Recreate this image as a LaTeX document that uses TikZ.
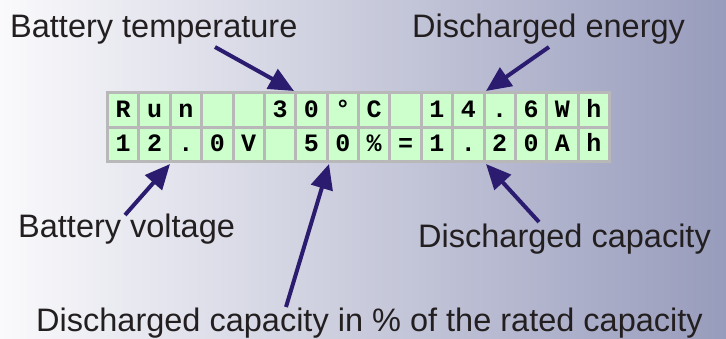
\documentclass[tikz,border=0pt]{standalone}
\usepackage{fontspec}
\setmainfont{Liberation Sans}
\newfontfamily\lcdfont{Liberation Mono}
\usetikzlibrary{arrows.meta}
\definecolor{bgL}{RGB}{250,250,252}
\definecolor{bgR}{RGB}{152,156,188}
\definecolor{framec}{RGB}{184,184,184}
\definecolor{cellc}{RGB}{204,255,204}
\definecolor{arrowc}{RGB}{43,28,112}
\definecolor{txtc}{RGB}{35,31,32}
\tikzset{
  lbl/.style={anchor=base west, inner sep=0pt, text=txtc,
    font=\fontsize{32.5}{39}\selectfont},
  cell/.style={fill=cellc, minimum width=28.375pt, minimum height=31.5pt,
    inner sep=0pt, text height=15pt, text depth=0pt,
    font=\lcdfont\bfseries\fontsize{25}{30}\selectfont},
  pointer/.style={draw=arrowc, line width=4pt,
    -{Triangle[length=25pt,width=22pt]}}
}
\begin{document}
\begin{tikzpicture}[x=1pt,y=-1pt]
\useasboundingbox (0,0) rectangle (726,338);
\shade[left color=bgL, right color=bgR] (0,0) rectangle (726,338);
% LCD panel
\node[fill=framec, minimum width=505pt, minimum height=72pt, inner sep=0pt,
  anchor=north west] (lcd) at (106,91) {};
\foreach \c [count=\i] in {R,u,n,{},{},3,0,°,C,{},1,4,.,6,W,h}
  \node[cell] (t\i) at ({123.1875+(\i-1)*31.375},109.75) {\c};
\foreach \c [count=\i] in {1,2,.,0,V,{},5,0,\%,=,1,.,2,0,A,h}
  \node[cell] (b\i) at ({123.1875+(\i-1)*31.375},144.25) {\c};
% labels
\node[lbl] (temp) at (10,37) {Battery temperature};
\node[lbl] (energy) at (412,37) {Discharged energy};
\node[lbl] (volt) at (18,237) {Battery voltage};
\node[lbl] (cap) at (418,247) {Discharged capacity};
\node[lbl] (pct) at (36,331) {Discharged capacity in \% of the rated capacity};
% arrow ends
\coordinate (tempTail) at (215,47);
\coordinate (tempTip) at (294,91);
\coordinate (energyTail) at (549,47);
\coordinate (energyTip) at (486,91);
\coordinate (voltTail) at (125,215);
\coordinate (voltTip) at (170,164);
\coordinate (pctTail) at (286,307);
\coordinate (pctTip) at (329,164);
\coordinate (capTail) at (539,222);
\coordinate (capTip) at (486,164);
\draw[pointer] (tempTail) -- (tempTip);
\draw[pointer] (energyTail) -- (energyTip);
\draw[pointer] (voltTail) -- (voltTip);
\draw[pointer] (pctTail) -- (pctTip);
\draw[pointer] (capTail) -- (capTip);
\end{tikzpicture}
\end{document}
